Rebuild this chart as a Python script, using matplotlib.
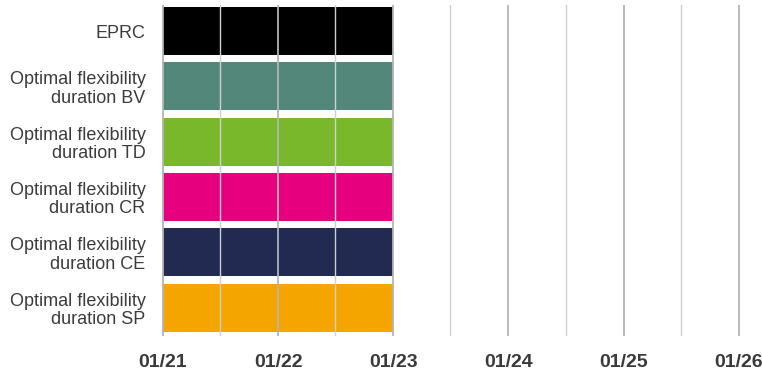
import matplotlib
matplotlib.use("Agg")
import matplotlib.pyplot as plt
import matplotlib.dates as mdates
from datetime import date

categories = ["EPRC",
              "Optimal flexibility\nduration BV",
              "Optimal flexibility\nduration TD",
              "Optimal flexibility\nduration CR",
              "Optimal flexibility\nduration CE",
              "Optimal flexibility\nduration SP"]
starts = [date(2021, 1, 1)] * 6
ends = [date(2023, 1, 1)] * 6
colors = ["#000000", "#52877a", "#78b82a", "#e6007e", "#222a52", "#f5a500"]

plt.rcParams['font.family'] = ['Liberation Sans', 'DejaVu Sans']

fig = plt.figure(figsize=(7.62, 3.76), dpi=100)
ax = fig.add_axes([159.5/762, 1-336/376, (742.5-159.5)/762, (336-5)/376])

s_num = mdates.date2num(starts)
e_num = mdates.date2num(ends)
ypos = list(range(len(categories)))
ax.barh(ypos, e_num - s_num, left=s_num, height=0.87, color=colors, zorder=1)

x0 = mdates.date2num(date(2021, 1, 1))
x1 = mdates.date2num(date(2026, 1, 1))
span = x1 - x0
ax.set_xlim(x0 - span*3.5/576, x1 + span*3.5/576)
ax.set_ylim(5.51, -0.47)

ax.xaxis.set_major_locator(mdates.YearLocator())
ax.xaxis.set_minor_locator(mdates.MonthLocator(bymonth=7))
ax.xaxis.set_major_formatter(mdates.DateFormatter("%m/%y"))
ax.grid(which='major', axis='x', color='#b4b4b4', linewidth=1.3, zorder=3)
ax.grid(which='minor', axis='x', color='#cfcfcf', linewidth=1.0, zorder=3)
ax.set_axisbelow(False)
ax.tick_params(axis='x', which='both', length=0, pad=13, labelsize=14,
               labelcolor='#3a3a3a')
for lbl in ax.get_xticklabels():
    lbl.set_fontweight('bold')
ax.set_yticks(ypos)
ax.set_yticklabels(categories, fontsize=13, color='#3c3c3c', linespacing=1.1)
ax.tick_params(axis='y', length=0, pad=10)
for sp in ax.spines.values():
    sp.set_visible(False)

fig.savefig("out.png", dpi=100)
